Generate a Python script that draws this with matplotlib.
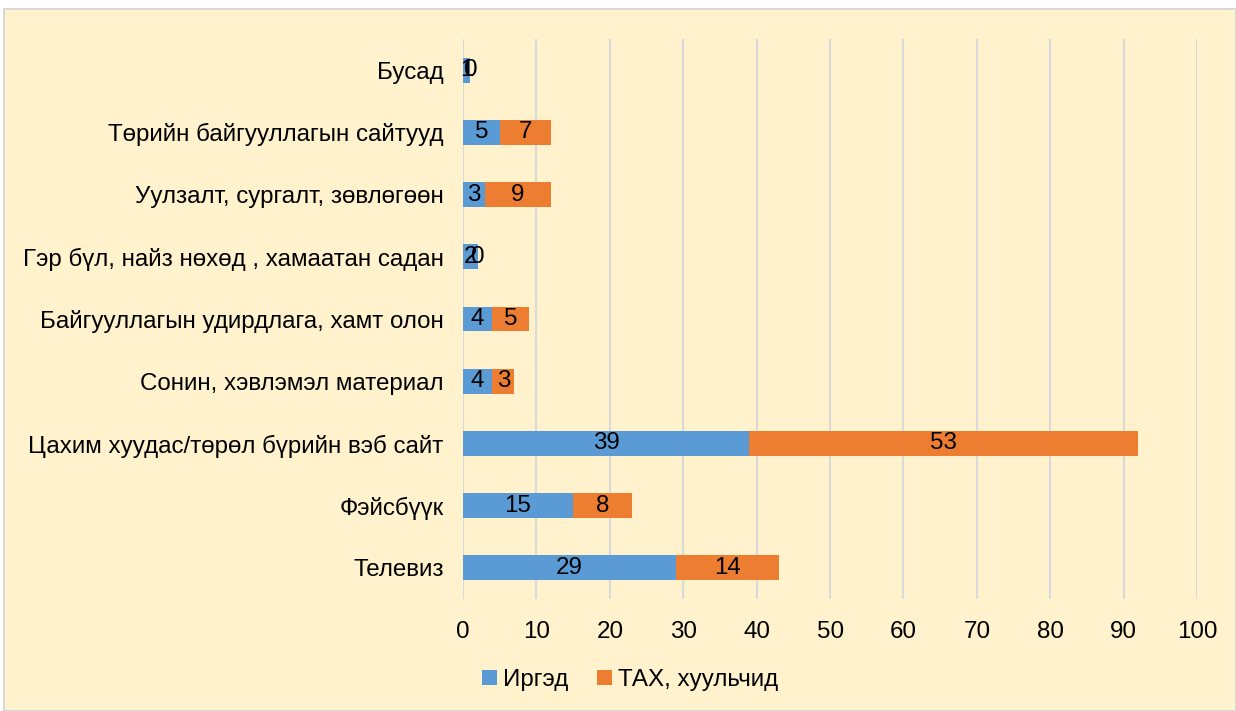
import numpy as np
import matplotlib.pyplot as plt
from matplotlib.patches import Rectangle

plt.rcParams['font.family'] = ['Liberation Sans', 'DejaVu Sans']

# Categories listed bottom to top
categories = ['Телевиз', 'Фэйсбүүк', 'Цахим хуудас/төрөл бүрийн вэб сайт',
              'Сонин, хэвлэмэл материал', 'Байгууллагын удирдлага, хамт олон',
              'Гэр бүл, найз нөхөд , хамаатан садан', 'Уулзалт, сургалт, зөвлөгөөн',
              'Төрийн байгууллагын сайтууд', 'Бусад']
citizens = [29, 15, 39, 4, 4, 2, 3, 5, 1]
officials = [14, 8, 53, 3, 5, 0, 9, 7, 0]
series_names = ['Иргэд', 'ТАХ, хуульчид']
colors = ['#5B9BD5', '#ED7D31']

fs = 17.4

fig = plt.figure(figsize=(12.36, 7.11), dpi=100)
fig.patch.set_facecolor('white')
# chart area background with light border
bg = Rectangle((4 / 1236, 0), 1 - 4 / 1236, 1 - 9 / 711,
               transform=fig.transFigure, facecolor='#FFF2CC',
               edgecolor='#D9D9D9', linewidth=1.5, zorder=-10)
fig.patches.append(bg)

ax = fig.add_axes([463 / 1236, 1 - 599 / 711, (1197 - 463) / 1236, (599 - 39) / 711])
ax.set_facecolor('none')
ax.set_zorder(1)

y = np.arange(len(categories))
b1 = ax.barh(y, citizens, height=0.4, color=colors[0], label=series_names[0], zorder=3)
b2 = ax.barh(y, officials, height=0.4, left=citizens, color=colors[1],
             label=series_names[1], zorder=3)
ax.bar_label(b1, label_type='center', fontsize=fs, color='black')
ax.bar_label(b2, label_type='center', fontsize=fs, color='black')

ax.set_xlim(0, 100)
ax.set_ylim(-0.5, len(categories) - 0.5)
ax.set_xticks(np.arange(0, 101, 10))
ax.set_yticks(y)
ax.set_yticklabels(categories)
ax.tick_params(axis='both', length=0, labelsize=fs, colors='black')
ax.tick_params(axis='x', pad=16)
ax.tick_params(axis='y', pad=14)
ax.grid(axis='x', color='#D9D9D9', linewidth=1.5, zorder=0)
for s in ax.spines.values():
    s.set_visible(False)

fig.legend(handles=[b1, b2], labels=series_names, loc='center',
           bbox_to_anchor=(630 / 1236, 1 - 680 / 711), ncol=2, frameon=False,
           fontsize=fs, handlelength=0.6, handleheight=0.6, handletextpad=0.25,
           columnspacing=1.2)

fig.savefig('out.png', dpi=100)
